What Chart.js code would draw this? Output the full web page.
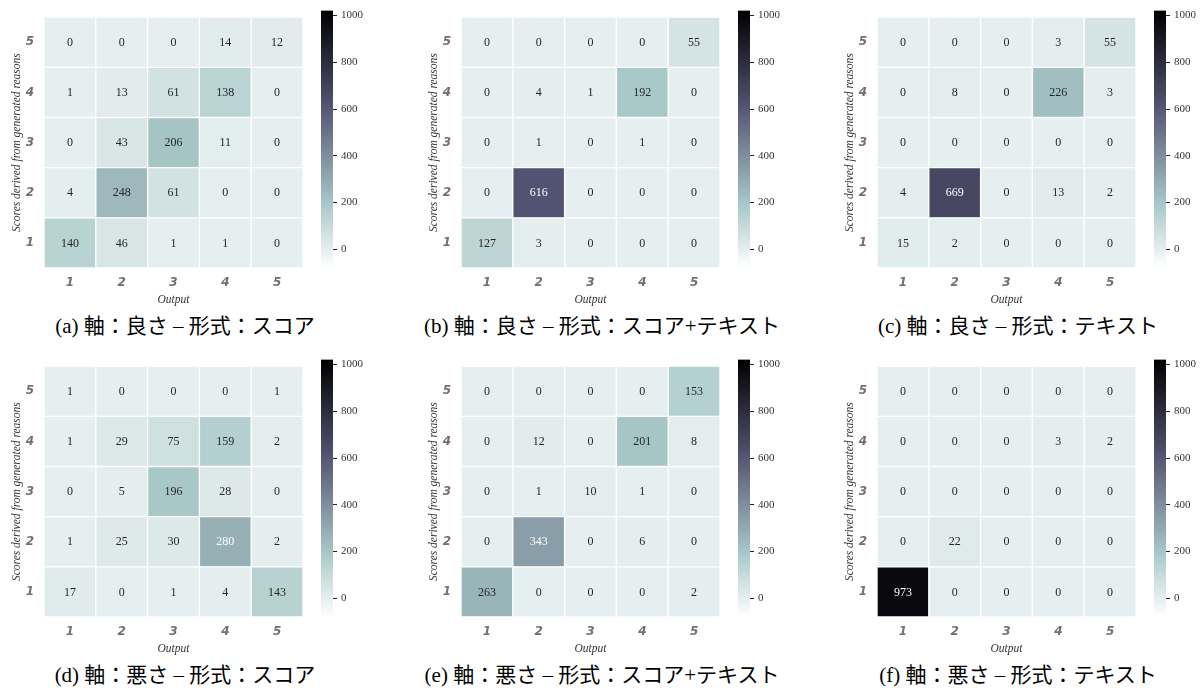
<!DOCTYPE html>
<html>
<head>
<meta charset="utf-8">
<script src="https://cdn.jsdelivr.net/npm/chart.js@4/dist/chart.umd.min.js"></script>
<style>
  body { margin: 0; background: #fff; }
  #page { position: relative; width: 1204px; height: 688px; overflow: hidden; }
  canvas { position: absolute; }
  .caption {
    position: absolute; width: 440px; text-align: center; white-space: nowrap;
    font-family: "Liberation Serif", "Noto Sans CJK JP", serif;
    font-size: 21px; line-height: 24px; color: #000;
  }
</style>
</head>
<body>
<div id="page"></div>
<script>
// 軸のラベル
const xLabels = ['1', '2', '3', '4', '5'];
const yLabels = [1, 2, 3, 4, 5];
const cbTicks = [0, 200, 400, 600, 800, 1000];
const cbMin = -80;
const cbMax = 1021;

// 各行 = 理由から導いたスコア 1..5, 各列 = Output 1..5
const goodScore = [
  [140, 46, 1, 1, 0],
  [4, 248, 61, 0, 0],
  [0, 43, 206, 11, 0],
  [1, 13, 61, 138, 0],
  [0, 0, 0, 14, 12]
];
const goodScoreText = [
  [127, 3, 0, 0, 0],
  [0, 616, 0, 0, 0],
  [0, 1, 0, 1, 0],
  [0, 4, 1, 192, 0],
  [0, 0, 0, 0, 55]
];
const goodText = [
  [15, 2, 0, 0, 0],
  [4, 669, 0, 13, 2],
  [0, 0, 0, 0, 0],
  [0, 8, 0, 226, 3],
  [0, 0, 0, 3, 55]
];
const badScore = [
  [17, 0, 1, 4, 143],
  [1, 25, 30, 280, 2],
  [0, 5, 196, 28, 0],
  [1, 29, 75, 159, 2],
  [1, 0, 0, 0, 1]
];
const badScoreText = [
  [263, 0, 0, 0, 2],
  [0, 343, 0, 6, 0],
  [0, 1, 10, 1, 0],
  [0, 12, 0, 201, 8],
  [0, 0, 0, 0, 153]
];
const badText = [
  [973, 0, 0, 0, 0],
  [0, 22, 0, 0, 0],
  [0, 0, 0, 0, 0],
  [0, 0, 0, 3, 2],
  [0, 0, 0, 0, 0]
];

const captions = [
  '(a) 軸：良さ – 形式：スコア',
  '(b) 軸：良さ – 形式：スコア+テキスト',
  '(c) 軸：良さ – 形式：テキスト',
  '(d) 軸：悪さ – 形式：スコア',
  '(e) 軸：悪さ – 形式：スコア+テキスト',
  '(f) 軸：悪さ – 形式：テキスト'
];
const matrices = [goodScore, goodScoreText, goodText, badScore, badScoreText, badText];

// bone_r カラーマップ
function boneR(t) {
  const s = 1 - Math.min(1, Math.max(0, t));
  const r = s < 0.746032 ? s / 0.746032 * 0.652778
    : 0.652778 + (s - 0.746032) / 0.253968 * 0.347222;
  const g = s < 0.365079 ? s / 0.365079 * 0.319444
    : s < 0.746032 ? 0.319444 + (s - 0.365079) / 0.380953 * 0.458334
    : 0.777778 + (s - 0.746032) / 0.253968 * 0.222222;
  const b = s < 0.365079 ? s / 0.365079 * 0.444444
    : 0.444444 + (s - 0.365079) / 0.634921 * 0.555556;
  return [r, g, b];
}
function toCss(c) {
  return 'rgb(' + c.map(v => Math.round(v * 255)).join(',') + ')';
}
function colorFor(v) {
  return toCss(boneR((v - cbMin) / (cbMax - cbMin)));
}
function isDark(v) {
  const lin = boneR((v - cbMin) / (cbMax - cbMin)).map(c => c <= 0.04045 ? c / 12.92 : Math.pow((c + 0.055) / 1.055, 2.4));
  return 0.2126 * lin[0] + 0.7152 * lin[1] + 0.0722 * lin[2] < 0.42;
}

// セルの数値
const cellLabels = {
  id: 'cellLabels',
  afterDatasetsDraw(chart) {
    const ctx = chart.ctx;
    ctx.save();
    ctx.font = '12px "Liberation Serif"';
    ctx.textAlign = 'center';
    ctx.textBaseline = 'middle';
    chart.data.datasets.forEach((ds, i) => {
      chart.getDatasetMeta(i).data.forEach((bar, j) => {
        const v = ds.values[j];
        const p = bar.getCenterPoint();
        ctx.fillStyle = isDark(v) ? '#ffffff' : '#262626';
        ctx.fillText(String(v), p.x, p.y + 0.5);
      });
    });
    ctx.restore();
  }
};

const page = document.getElementById('page');
const tickFont = { family: 'DejaVu Sans', size: 12, style: 'italic', weight: 'bold' };
const titleFont = { family: 'Liberation Serif', size: 11.5, style: 'italic' };

function makeCanvas(left, top, w, h) {
  const c = document.createElement('canvas');
  c.width = w; c.height = h;
  c.style.left = left + 'px'; c.style.top = top + 'px';
  c.style.width = w + 'px'; c.style.height = h + 'px';
  page.appendChild(c);
  return c;
}

function drawHeatmap(rows, left, top) {
  const cv = makeCanvas(left, top, 312, 312);
  new Chart(cv, {
    type: 'bar',
    data: {
      labels: xLabels,
      datasets: rows.map((vals, i) => ({
        data: vals.map(() => [yLabels[i] - 0.5, yLabels[i] + 0.5]),
        values: vals,
        backgroundColor: vals.map(colorFor),
        borderColor: '#ffffff',
        borderWidth: 1,
        borderSkipped: false,
        barPercentage: 1,
        categoryPercentage: 1,
        grouped: false
      }))
    },
    options: {
      responsive: false,
      animation: false,
      layout: { padding: { top: 9, right: 9, left: 0, bottom: 0 } },
      plugins: { legend: { display: false }, tooltip: { enabled: false } },
      scales: {
        x: {
          grid: { display: false, drawTicks: false },
          border: { display: false },
          ticks: { padding: 8, color: '#707070', font: tickFont },
          title: { display: true, text: 'Output', color: '#333', font: titleFont, padding: { top: 0, bottom: 5 } },
          afterFit(s) { s.height = 44; }
        },
        y: {
          min: 0.5,
          max: 5.5,
          grid: { display: false, drawTicks: false },
          border: { display: false },
          afterBuildTicks(s) { s.ticks = yLabels.map(v => ({ value: v })); },
          ticks: { padding: 10, color: '#707070', font: tickFont },
          title: { display: true, text: 'Scores derived from generated reasons', color: '#333', font: titleFont, padding: { top: 10, bottom: 0 } },
          afterFit(s) { s.width = 44; }
        }
      }
    },
    plugins: [cellLabels]
  });
}

function drawColorbar(left, top) {
  const cv = makeCanvas(left, top, 70, 312);
  new Chart(cv, {
    type: 'bar',
    data: {
      labels: [''],
      datasets: [{
        data: [[cbMin, cbMax]],
        barPercentage: 1,
        categoryPercentage: 1,
        borderWidth: 0,
        backgroundColor(ctx) {
          const chart = ctx.chart;
          if (!chart.chartArea) return '#ccc';
          const y = chart.scales.y;
          const g = chart.ctx.createLinearGradient(0, y.getPixelForValue(cbMin), 0, y.getPixelForValue(cbMax));
          for (let i = 0; i <= 32; i++) g.addColorStop(i / 32, toCss(boneR(i / 32)));
          return g;
        }
      }]
    },
    options: {
      responsive: false,
      animation: false,
      layout: { padding: { top: 9, bottom: 44, left: 0, right: 0 } },
      plugins: { legend: { display: false }, tooltip: { enabled: false } },
      scales: {
        x: { display: false },
        y: {
          position: 'right',
          min: cbMin,
          max: cbMax,
          afterBuildTicks(s) { s.ticks = cbTicks.map(v => ({ value: v })); },
          grid: { display: true, drawOnChartArea: false, drawTicks: true, tickLength: 4, color: '#222', lineWidth: 1 },
          border: { display: false },
          ticks: { padding: 4, color: '#333', font: { family: 'Liberation Serif', size: 11 }, callback: v => String(v) },
          afterFit(s) { s.width = 58; }
        }
      }
    }
  });
}

const colOffsets = [0, 417, 833];
const rowOffsets = [0, 349];

matrices.forEach((m, k) => {
  const ox = colOffsets[k % 3];
  const oy = rowOffsets[Math.floor(k / 3)];
  drawHeatmap(m, ox, oy);
  drawColorbar(ox + 321, oy);
  const cap = document.createElement('div');
  cap.className = 'caption';
  cap.textContent = captions[k];
  cap.style.left = (ox + 185 - 220) + 'px';
  cap.style.top = (oy + 314) + 'px';
  page.appendChild(cap);
});
</script>
</body>
</html>
